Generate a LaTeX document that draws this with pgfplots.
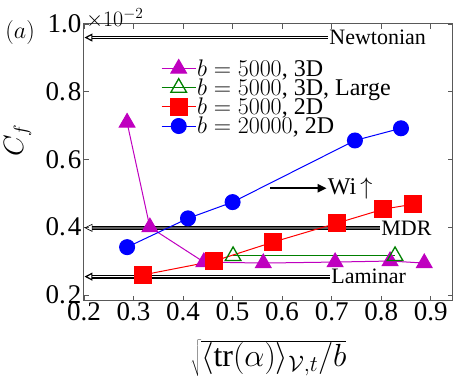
\documentclass[border=0pt]{standalone}
\usepackage{fix-cm}
\usepackage{pgfplots}
\pgfplotsset{compat=1.18}
\usepackage{fontspec}
\setmainfont{Liberation Serif}
\usetikzlibrary{arrows.meta}
\definecolor{mag}{RGB}{191,0,191}
\definecolor{grn}{RGB}{0,128,0}
\definecolor{myred}{RGB}{255,0,0}
\definecolor{myblue}{RGB}{0,0,255}
\begin{document}
\begin{tikzpicture}
\useasboundingbox (-84pt,-84pt) rectangle (375pt,301pt);
\begin{axis}[
 at={(0,0)}, anchor=south west,
 scale only axis, width=369pt, height=277pt,
 xmin=0.2, xmax=0.945, ymin=0.182, ymax=1.0,
 xtick={0.2,0.3,0.4,0.5,0.6,0.7,0.8,0.9},
 ytick={0.2,0.4,0.6,0.8,1.0},
 xticklabels={0.2,0.3,0.4,0.5,0.6,0.7,0.8,0.9},
 yticklabels={0.\hspace{2pt}2,0.\hspace{2pt}4,0.\hspace{2pt}6,0.\hspace{2pt}8,1.0},
 /pgf/number format/assume math mode=true,
 tick align=inside, major tick length=5pt,
 axis line style={gray!70!black, line width=1pt},
 tick style={gray!70!black, line width=0.6pt},
 ticklabel style={font=\fontsize{27}{27}\selectfont},
 xticklabel style={yshift=2pt},
 yticklabel style={xshift=1pt},
 xlabel={$\sqrt{\langle \mathrm{tr}(\alpha)\rangle_{\mathcal{V},t}/b}$},
 xlabel style={font=\fontsize{32}{32}\selectfont, at={(axis description cs:0.5,-0.207)}, anchor=center},
 ylabel={$C_f$},
 ylabel style={font=\fontsize{28}{28}\selectfont, at={(axis description cs:-0.18,0.58)}, anchor=center},
 legend style={draw=none, fill=none, at={(rel axis cs:0.206,0.88)}, anchor=north west,
   font=\fontsize{24}{24}\selectfont, row sep=-1pt, inner sep=1pt,
   nodes={inner sep=1pt},
   legend cell align=left},
 legend image code/.code={\draw[mark repeat=2,mark phase=2] plot coordinates {(0pt,0pt) (17pt,0pt) (34pt,0pt)};},
 clip=false,
]
% reference lines
\draw[double=white, double distance=1.5pt, line width=1.2pt, {Triangle[open,length=8pt,width=8pt]}-] (axis cs:0.201,0.96) -- (axis cs:0.693,0.96);
\node[anchor=west, inner sep=1pt, font=\fontsize{22}{22}\selectfont] at (axis cs:0.693,0.96) {Newtonian};
\draw[double=gray!75!black, double distance=2.6pt, line width=0.6pt, {Triangle[open,length=8pt,width=8pt]}-] (axis cs:0.201,0.398) -- (axis cs:0.798,0.398);
\node[anchor=west, inner sep=1pt, font=\fontsize{22}{22}\selectfont] at (axis cs:0.798,0.398) {MDR};
\draw[double=white, double distance=1.5pt, line width=1.2pt, {Triangle[open,length=8pt,width=8pt]}-] (axis cs:0.201,0.254) -- (axis cs:0.697,0.254);
\node[anchor=west, inner sep=1pt, font=\fontsize{22}{22}\selectfont] at (axis cs:0.697,0.254) {Laminar};
\draw[-{Triangle[length=9pt,width=8pt]}, line width=2.2pt] (axis cs:0.576,0.515) -- (axis cs:0.69,0.515);
\node[anchor=west, inner sep=1pt, font=\fontsize{24}{24}\selectfont] at (axis cs:0.69,0.515) {Wi\,$\uparrow$};
\node[anchor=center, font=\fontsize{24}{24}\selectfont] at (axis description cs:-0.173,0.968) {$(a)$};
\node[anchor=south west, inner sep=0pt, font=\fontsize{22}{22}\selectfont] at (axis description cs:0.005,0.985) {$\times 10^{-2}$};

\addplot[color=mag, line width=1pt, mark=triangle*, mark size=9pt, mark options={solid, fill=mag}]
 coordinates {(0.287,0.709) (0.333,0.400) (0.442,0.297) (0.562,0.294) (0.707,0.297) (0.818,0.300) (0.887,0.294)};
\addlegendentry{$b=5000$, 3D}
\addplot[color=grn, line width=1pt, mark=triangle, mark size=9pt, mark options={solid, line width=1.3pt}]
 coordinates {(0.501,0.315) (0.828,0.315)};
\addlegendentry{$b=5000$, 3D, Large}
\addplot[color=myred, line width=1pt, mark=square*, mark size=8.5pt, mark options={solid, fill=myred}]
 coordinates {(0.319,0.259) (0.463,0.300) (0.582,0.356) (0.711,0.412) (0.804,0.453) (0.865,0.468)};
\addlegendentry{$b=5000$, 2D}
\addplot[color=myblue, line width=1pt, mark=*, mark size=7.5pt, mark options={solid, fill=myblue}]
 coordinates {(0.287,0.341) (0.410,0.426) (0.500,0.474) (0.747,0.656) (0.840,0.692)};
\addlegendentry{$b=20000$, 2D}
\end{axis}
\end{tikzpicture}
\end{document}
